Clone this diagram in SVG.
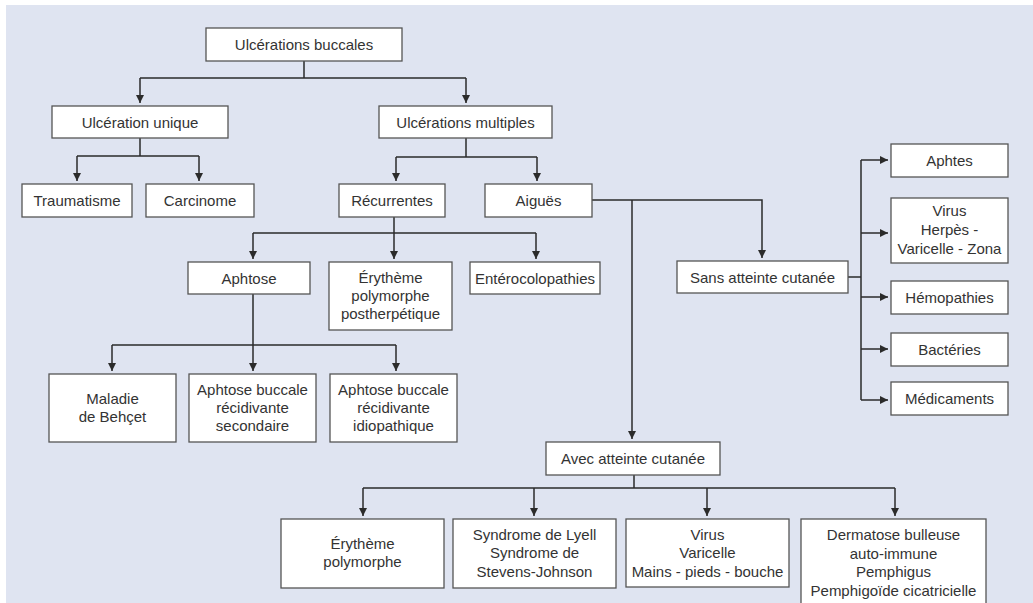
<svg xmlns="http://www.w3.org/2000/svg" width="1033" height="603" viewBox="0 0 1033 603">
<defs>
<marker id="ar" viewBox="0 0 10 10" refX="10" refY="5" markerWidth="8.5" markerHeight="8.5" markerUnits="userSpaceOnUse" orient="auto">
<path d="M0,0 L10,5 L0,10 z" fill="#2b2b2b"/>
</marker>
<style>
.b{fill:#ffffff;stroke:#555555;stroke-width:1.3}
.t{font-family:"Liberation Sans",Arial,sans-serif;font-size:15px;fill:#333333;text-anchor:middle}
.c{fill:none;stroke:#2b2b2b;stroke-width:1.5}
.a{fill:none;stroke:#2b2b2b;stroke-width:1.5;marker-end:url(#ar)}
</style>
</defs>
<rect x="0" y="0" width="1033" height="603" fill="#ffffff"/>
<rect x="6" y="5" width="1027" height="598" fill="#dfe4f1"/>

<g id="connectors">
<path class="c" d="M304 61 V78 M140 78 H466"/>
<path class="a" d="M140 78 V103"/>
<path class="a" d="M466 78 V103"/>

<path class="c" d="M140 138 V156 M77 156 H199"/>
<path class="a" d="M77 156 V181"/>
<path class="a" d="M199 156 V181"/>

<path class="c" d="M466 138 V157 M396 157 H537"/>
<path class="a" d="M396 157 V181"/>
<path class="a" d="M537 157 V181"/>

<path class="c" d="M394 217 V233 M253 233 H536"/>
<path class="a" d="M253 233 V259"/>
<path class="a" d="M394 233 V259"/>
<path class="a" d="M536 233 V259"/>

<path class="a" d="M592 200 H762 V258"/>
<path class="a" d="M632 200 V439"/>

<path class="c" d="M848 277 H861 M861 160 V400"/>
<path class="a" d="M861 160 H888"/>
<path class="a" d="M861 233 H888"/>
<path class="a" d="M861 297 H888"/>
<path class="a" d="M861 349 H888"/>
<path class="a" d="M861 400 H888"/>

<path class="c" d="M253 294 V345 M112 345 H396"/>
<path class="a" d="M112 345 V371"/>
<path class="a" d="M253 345 V371"/>
<path class="a" d="M396 345 V371"/>

<path class="c" d="M634 475 V488 M363 488 H895"/>
<path class="a" d="M363 488 V516"/>
<path class="a" d="M534 488 V516"/>
<path class="a" d="M707 488 V516"/>
<path class="a" d="M895 488 V516"/>
</g>

<g id="ub"><rect class="b" x="206" y="28" width="196" height="33"/><text class="t" x="304" y="50">Ulcérations buccales</text></g>
<g id="uu"><rect class="b" x="52" y="106" width="176" height="32"/><text class="t" x="140" y="127.5">Ulcération unique</text></g>
<g id="um"><rect class="b" x="379" y="106" width="173" height="32"/><text class="t" x="465.5" y="127.5">Ulcérations multiples</text></g>
<g id="tr"><rect class="b" x="22" y="184" width="110" height="33"/><text class="t" x="77" y="206">Traumatisme</text></g>
<g id="ca"><rect class="b" x="146" y="184" width="108" height="33"/><text class="t" x="200" y="206">Carcinome</text></g>
<g id="re"><rect class="b" x="339" y="184" width="106" height="33"/><text class="t" x="392" y="206">Récurrentes</text></g>
<g id="ai"><rect class="b" x="485" y="184" width="107" height="33"/><text class="t" x="538.5" y="206">Aiguës</text></g>

<g id="ap"><rect class="b" x="188" y="262" width="122" height="32"/><text class="t" x="249" y="283.5">Aphtose</text></g>
<g id="ep"><rect class="b" x="329" y="262" width="123" height="68"/><text class="t" x="390.5" y="283">Érythème</text><text class="t" x="390.5" y="301">polymorphe</text><text class="t" x="390.5" y="319">postherpétique</text></g>
<g id="en"><rect class="b" x="470" y="262" width="130" height="32"/><text class="t" x="535" y="283.5">Entérocolopathies</text></g>

<g id="mb"><rect class="b" x="49" y="374" width="127" height="68"/><text class="t" x="112.5" y="404">Maladie</text><text class="t" x="112.5" y="422">de Behçet</text></g>
<g id="abs"><rect class="b" x="189" y="374" width="127" height="68"/><text class="t" x="252.5" y="395">Aphtose buccale</text><text class="t" x="252.5" y="413">récidivante</text><text class="t" x="252.5" y="431">secondaire</text></g>
<g id="abi"><rect class="b" x="330" y="374" width="127" height="68"/><text class="t" x="393.5" y="395">Aphtose buccale</text><text class="t" x="393.5" y="413">récidivante</text><text class="t" x="393.5" y="431">idiopathique</text></g>

<g id="sa"><rect class="b" x="677" y="261" width="171" height="32"/><text class="t" x="762.5" y="282.5">Sans atteinte cutanée</text></g>
<g id="aph"><rect class="b" x="891" y="144" width="117" height="33"/><text class="t" x="949.5" y="166">Aphtes</text></g>
<g id="vh"><rect class="b" x="891" y="198" width="117" height="65"/><text class="t" x="949.5" y="216">Virus</text><text class="t" x="949.5" y="235">Herpès -</text><text class="t" x="949.5" y="254">Varicelle - Zona</text></g>
<g id="he"><rect class="b" x="891" y="281" width="117" height="33"/><text class="t" x="949.5" y="303">Hémopathies</text></g>
<g id="ba"><rect class="b" x="891" y="333" width="117" height="33"/><text class="t" x="949.5" y="355">Bactéries</text></g>
<g id="me"><rect class="b" x="891" y="382" width="117" height="33"/><text class="t" x="949.5" y="404">Médicaments</text></g>

<g id="av"><rect class="b" x="546" y="442" width="174" height="33"/><text class="t" x="633" y="464">Avec atteinte cutanée</text></g>
<g id="eyp"><rect class="b" x="281" y="519" width="163" height="69"/><text class="t" x="362.5" y="549">Érythème</text><text class="t" x="362.5" y="567">polymorphe</text></g>
<g id="sl"><rect class="b" x="453" y="519" width="163" height="69"/><text class="t" x="534.5" y="540">Syndrome de Lyell</text><text class="t" x="534.5" y="558">Syndrome de</text><text class="t" x="534.5" y="577">Stevens-Johnson</text></g>
<g id="vv"><rect class="b" x="626" y="519" width="163" height="68"/><text class="t" x="707.5" y="540">Virus</text><text class="t" x="707.5" y="558">Varicelle</text><text class="t" x="707.5" y="577">Mains - pieds - bouche</text></g>
<g id="db"><rect class="b" x="801" y="519" width="185" height="100"/><text class="t" x="893.5" y="540">Dermatose bulleuse</text><text class="t" x="893.5" y="558.5">auto-immune</text><text class="t" x="893.5" y="577">Pemphigus</text><text class="t" x="893.5" y="596">Pemphigoïde cicatricielle</text></g>
</svg>
